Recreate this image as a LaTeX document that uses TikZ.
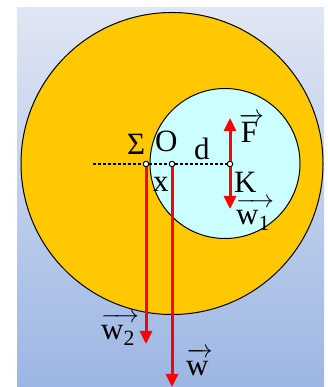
\documentclass[tikz,border=0pt]{standalone}
\usepackage{amsmath}
\usepackage{fontspec}
\setmainfont{Liberation Serif}
\usepackage{xcolor}
\usepackage{tikz}
\usetikzlibrary{arrows.meta,calc}

\definecolor{shell}{RGB}{255,200,0}
\definecolor{hole}{RGB}{204,255,255}
\definecolor{bgtop}{RGB}{224,230,243}
\definecolor{bgbot}{RGB}{156,182,227}

\newcommand{\vect}[1]{$\overrightarrow{\text{#1}\vphantom{\text{t}}\,}$}

\begin{document}
\begin{tikzpicture}[
x=1pt,
y=1pt,
every node/.style={font=\fontsize{31}{35}\selectfont,inner sep=0pt,anchor=base west},
pt/.style={circle,draw,fill=white,line width=1pt,minimum size=5.5pt,inner sep=0pt,anchor=center},
force/.style={-{Triangle[length=13pt,width=12pt]},red,line width=3pt},
axis/.style={line width=1.2pt,dash pattern=on 3pt off 2pt}
]
\useasboundingbox (0,0) rectangle (327,387);
\shade[top color=bgtop,bottom color=bgbot] (17,0) rectangle (324,379);
\draw[fill=shell,line width=1pt] (172,223.5) circle (151);
\draw[fill=hole,line width=1pt] (225,223.5) circle (75);

\node[pt] (sig) at (146,223) {};
\node[pt] (cen) at (172,223) {};
\node[pt] (kpt) at (230,223) {};
\coordinate (lend) at (93,223);
\coordinate (w2end) at (146,43);
\coordinate (wend) at (172,0);
\coordinate (fend) at (230,269);
\coordinate (w1end) at (230,178);

\draw[axis] (lend) -- (sig) -- (cen) -- (kpt);
\draw[force] (sig.south) -- (w2end);
\draw[force] (cen.south) -- (wend);
\draw[force] (kpt.north) -- (fend);
\draw[force] (kpt.south) -- (w1end);

\node (lsig) at (127,232) {Σ};
\node (lcen) at (155,235) {O};
\node (ld) at (194,227) {d};
\node (lx) at (153,195) {x};
\node (lk) at (234,194) {K};
\node (lf) at (239,244) {\vect{F}};
\node (lw1) at (236,162) {\vect{w\textsubscript{1}}};
\node (lw2) at (101,47) {\vect{w\textsubscript{2}}};
\node (lw) at (186,12) {\vect{w}};
\end{tikzpicture}
\end{document}
